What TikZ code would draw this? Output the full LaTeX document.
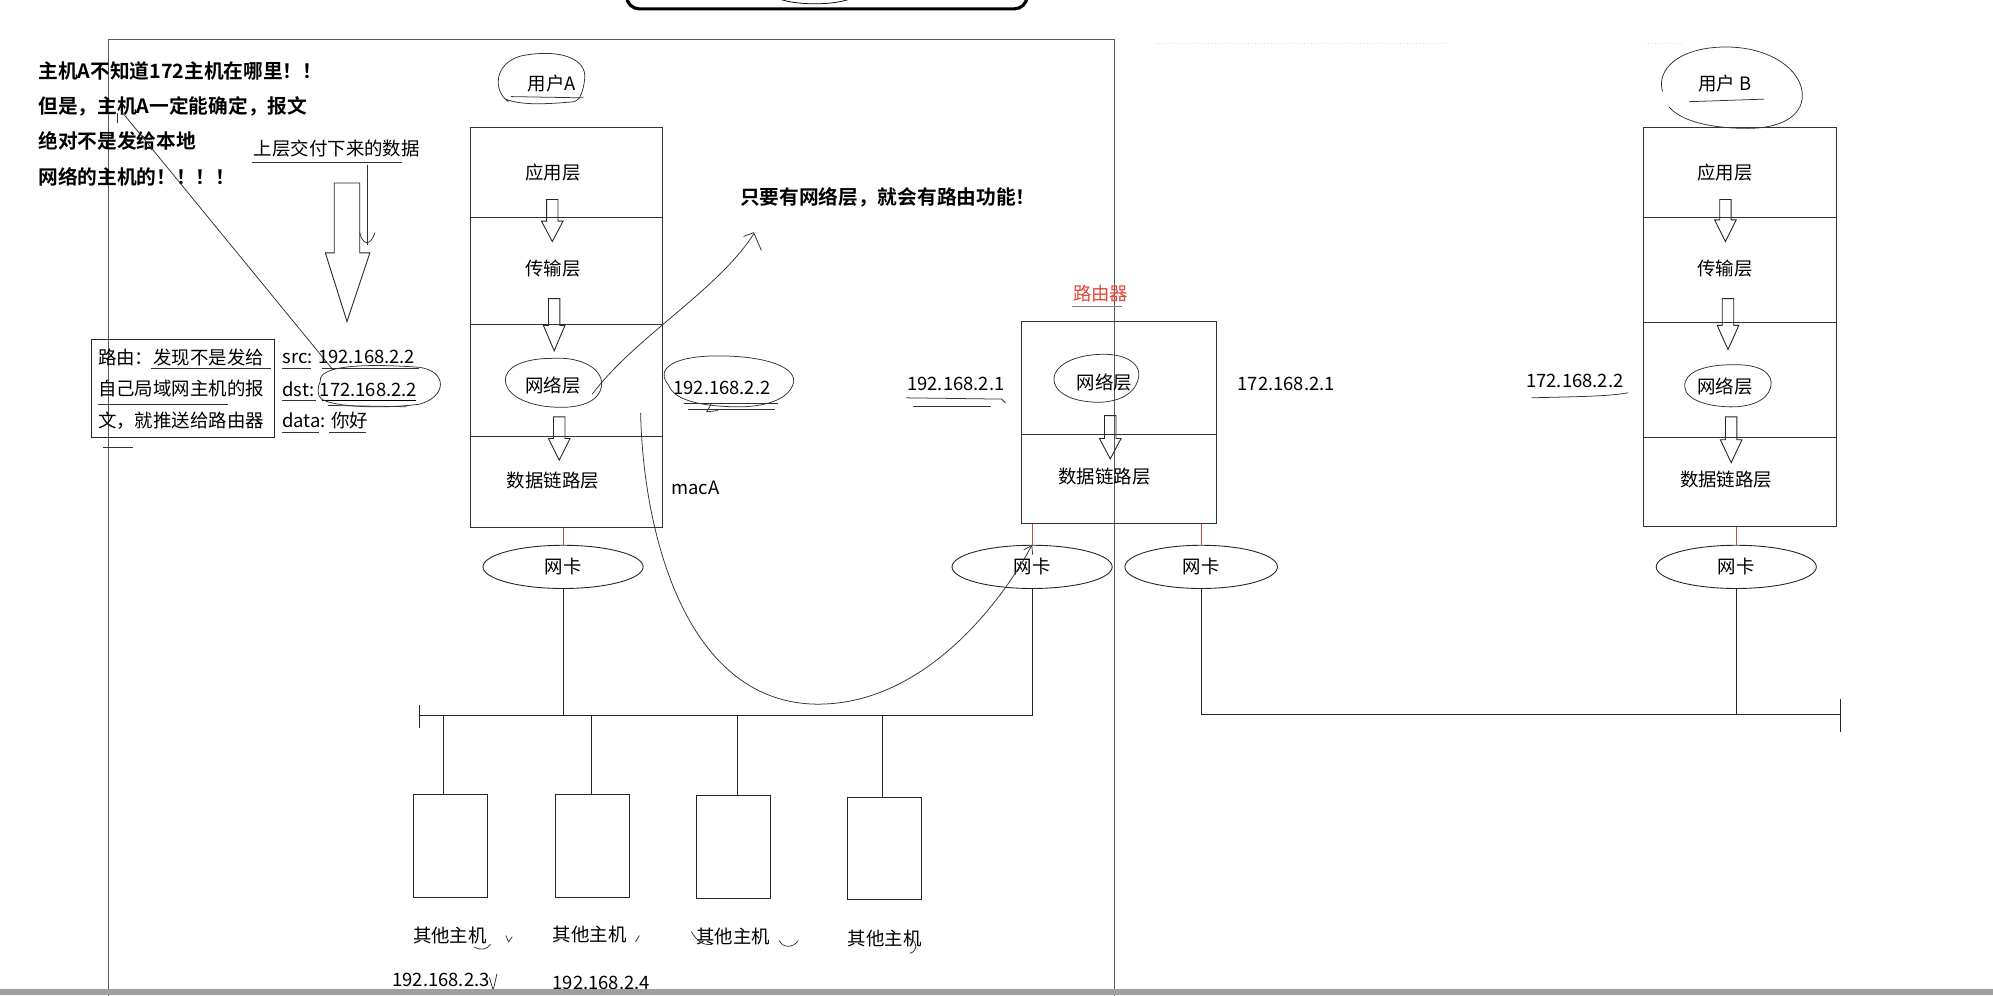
\documentclass[tikz,border=0pt]{standalone}
\usepackage{fontspec}
\setmainfont{Noto Sans CJK SC}[BoldFont={Noto Sans CJK SC Bold}]
\usetikzlibrary{arrows.meta,shapes.geometric}
\definecolor{routerred}{HTML}{E5463C}
\definecolor{linkred}{HTML}{C0504D}
\newcommand{\harrow}[4]{%
  \draw[thinline] (#1-4.5,#2) -- (#1+4.5,#2) -- (#1+4.5,#3) -- (#1+8.5,#3) -- (#1,#4) -- (#1-8.5,#3) -- (#1-4.5,#3) -- cycle;}
\begin{document}
\begin{tikzpicture}[x=1pt,y=-1pt,
  thinline/.style={line width=0.7pt, draw=black!85},
  frameline/.style={line width=0.8pt, draw=black!65},
  hand/.style={line width=0.6pt, draw=black!80},
  lbl/.style={font=\fontsize{14.5}{16}\selectfont, inner sep=0pt},
  boldtxt/.style={font=\fontsize{15.5}{18}\selectfont\bfseries, inner sep=0pt, anchor=west},
  layerbox/.style={draw=black!80, line width=0.7pt, inner sep=0pt},
  nic/.style={ellipse, draw=black!85, line width=0.7pt, minimum height=34pt, inner sep=0pt, font=\fontsize{14.5}{16}\selectfont},
  hostbox/.style={draw=black!85, line width=0.7pt, minimum width=58pt, minimum height=81pt, inner sep=0pt},
  redlink/.style={draw=linkred, line width=0.5pt}
]
\useasboundingbox (0,0) rectangle (1568,783);
\fill[white] (0,0) rectangle (1568,783);
\begin{scope}
\clip (0,0) rectangle (1568,783);
% top rounded box fragment
\draw[line width=2.5pt, rounded corners=10pt] (493,-30) rectangle (808,7);
\draw[line width=0.6pt] (641,-6) ellipse [x radius=34, y radius=9];
% frame
\draw[frameline] (85,790) -- (85,31) -- (877,31) -- (877,790);
% faint dotted line
\draw[cyan!25, dotted, line width=0.6pt] (909,34) -- (1139,34);
\draw[cyan!25, dotted, line width=0.6pt] (1294,34) -- (1325,34);

% left bold text
\node[boldtxt] (t1) at (30,56) {主机A不知道172主机在哪里！！};
\node[boldtxt] (t2) at (30,84) {但是，主机A一定能确定，报文};
\node[boldtxt] (t3) at (30,111) {绝对不是发给本地};
\node[boldtxt] (t4) at (30,139) {网络的主机的！！！！};
\coordinate (diagS) at (95,87);
\coordinate (diagE) at (262,291);
\draw[hand] (diagS) -- (diagE);
\draw[hand] (92,89) -- (92,97);

% upper data
\node[lbl] (upper) at (265,117) {上层交付下来的数据};
\draw[hand] (198,128) -- (316,128);
\coordinate (thinT) at (289,130);
\coordinate (thinB) at (289,193);
\draw[hand] (thinT) -- (thinB);
\draw[hand] (283,183) .. controls (285,192) and (291,195) .. (295,183);
\draw[thinline] (263,144) -- (283,144) -- (283,199) -- (291,199) -- (273,253) -- (256,199) -- (263,199) -- cycle;

% routing box
\node[draw=black!85, line width=0.7pt, minimum width=144pt, minimum height=77pt, inner sep=0pt] (routebox) at (144,305.5) {};
\node[lbl, anchor=west] (r1) at (77,281) {路由：发现不是发给};
\node[lbl, anchor=west] (r2) at (77,306) {自己局域网主机的报};
\node[lbl, anchor=west] (r3) at (77,331) {文，就推送给路由器};
\draw[hand] (119,290) -- (213,290);
\draw[hand] (77,318) -- (179,318);
\draw[hand] (81,352) -- (105,352);
\node[lbl, anchor=west] (src) at (222,281) {src: 192.168.2.2};
\node[lbl, anchor=west] (dst) at (222,306) {dst: 172.168.2.2};
\node[lbl, anchor=west] (data) at (222,331) {data: 你好};
\draw[hand] (222,290) -- (245,290);
\draw[hand] (253,290) -- (330,290);
\draw[hand] (222,315) -- (249,315);
\draw[line width=1.1pt] (253,315) -- (327,315);
\draw[hand] (258,319) -- (320,320);
\draw[hand] (222,340) -- (251,340);
\draw[hand] (259,340) -- (288,340);
\draw[hand] (252,300) .. controls (250,287) and (290,286) .. (330,289) .. controls (352,292) and (352,312) .. (330,318) .. controls (300,322) and (262,320) .. (253,314) .. controls (249,311) and (250,304) .. (252,300);

% Host A stack
\node[layerbox, minimum width=151pt, minimum height=71pt] (aApp) at (445.5,135.5) {};
\node[layerbox, minimum width=151pt, minimum height=84pt] (aTra) at (445.5,213) {};
\node[layerbox, minimum width=151pt, minimum height=88pt] (aNet) at (445.5,299) {};
\node[layerbox, minimum width=151pt, minimum height=72pt] (aLnk) at (445.5,379) {};
\node[lbl] (aAppL) at (435,136) {应用层};
\node[lbl] (aTraL) at (435,211) {传输层};
\node[lbl] (aNetL) at (435,303) {网络层};
\node[lbl] (aLnkL) at (435,378) {数据链路层};
\harrow{434.5}{157}{174}{190}
\harrow{436}{235}{256}{276}
\harrow{440}{328}{345}{362}
% user A
\node[lbl] (userA) at (434,66) {用户A};
\draw[hand] (402,76) -- (459,77);
\draw[hand] (400,80) .. controls (388,72) and (388,50) .. (410,44) .. controls (440,38) and (462,46) .. (460,62) .. controls (459,72) and (456,79) .. (452,80) .. controls (430,82) and (410,83) .. (398,78);
% network ellipse A
\draw[hand] (433,282) .. controls (460,280) and (476,292) .. (473,305) .. controls (470,318) and (452,322) .. (432,320) .. controls (410,318) and (395,308) .. (398,296) .. controls (401,286) and (418,282) .. (433,282);
% IP right of A
\node[lbl] (ipA) at (568,305) {192.168.2.2};
\draw[hand] (526,303) .. controls (515,290) and (530,280) .. (565,280) .. controls (605,280) and (628,290) .. (624,302) .. controls (620,315) and (600,321) .. (575,320) .. controls (548,319) and (530,314) .. (526,303);
\draw[hand] (538,317) -- (612,317);
\draw[hand] (541,322) -- (610,322);
\draw[hand] (560,317) -- (556,324) -- (565,323);
\node[lbl, anchor=west] (macA) at (528,384) {macA};

% curved note arrow
\node[boldtxt] (note) at (582,155) {只要有网络层，就会有路由功能！};
\coordinate (noteS) at (466,310);
\coordinate (noteE) at (593,184);
\draw[hand] (noteS) .. controls (500,265) and (565,228) .. (noteE);
\draw[hand] (585,186) -- (593,183) -- (599,197);

% Router
\node[text=routerred, lbl] (rtr) at (866,231) {路由器};
\draw[line width=0.6pt, draw=black!50] (843,241) -- (883,241);
\node[layerbox, minimum width=153pt, minimum height=89pt] (rNet) at (880.5,297.5) {};
\node[layerbox, minimum width=153pt, minimum height=70pt] (rLnk) at (880.5,377) {};
\node[lbl] (rNetL) at (869,301) {网络层};
\node[lbl] (rLnkL) at (869,375) {数据链路层};
\draw[hand] (862,279) .. controls (885,277) and (900,286) .. (895,300) .. controls (890,314) and (872,318) .. (856,316) .. controls (836,314) and (826,304) .. (830,294) .. controls (834,285) and (848,280) .. (862,279);
\harrow{873.5}{327}{345}{361}
\node[lbl] (ipR1) at (752,302) {192.168.2.1};
\draw[hand] (713,313) -- (788,314) -- (791,317);
\draw[hand] (718,320) -- (780,320);
\node[lbl] (ipR2) at (1012,302) {172.168.2.1};

% Host B stack
\node[layerbox, minimum width=152pt, minimum height=71pt] (bApp) at (1369,135.5) {};
\node[layerbox, minimum width=152pt, minimum height=83pt] (bTra) at (1369,212.5) {};
\node[layerbox, minimum width=152pt, minimum height=90pt] (bNet) at (1369,299) {};
\node[layerbox, minimum width=152pt, minimum height=70pt] (bLnk) at (1369,379) {};
\node[lbl] (bAppL) at (1357,136) {应用层};
\node[lbl] (bTraL) at (1357,211) {传输层};
\node[lbl] (bNetL) at (1357,304) {网络层};
\node[lbl] (bLnkL) at (1358,377) {数据链路层};
\harrow{1357.5}{157}{173}{190}
\harrow{1359.5}{235}{256}{275}
\harrow{1362}{328}{346}{364}
\draw[hand] (1362,287) .. controls (1385,286) and (1396,294) .. (1393,305) .. controls (1390,316) and (1375,321) .. (1358,320) .. controls (1338,319) and (1322,312) .. (1326,300) .. controls (1329,291) and (1345,287) .. (1362,287);
\node[lbl] (userB) at (1357,66) {用户 B};
\draw[hand] (1329,80) -- (1388,78);
\draw[hand] (1308,72) .. controls (1303,55) and (1320,38) .. (1355,37) .. controls (1392,36) and (1418,55) .. (1418,75) .. controls (1418,92) and (1400,101) .. (1375,101) .. controls (1345,101) and (1322,95) .. (1313,84);
\node[lbl] (ipB) at (1239,300) {172.168.2.2};
\draw[hand] (1205,313) .. controls (1240,312) and (1265,312) .. (1281,309);

% NICs
\node[nic, minimum width=126pt] (nicA) at (443,446) {网卡};
\node[nic, minimum width=126pt] (nicR1) at (812,446) {网卡};
\node[nic, minimum width=120pt] (nicR2) at (945,446) {网卡};
\node[nic, minimum width=126pt] (nicB) at (1366,446) {网卡};
\draw[redlink] (nicA.north |- aLnk.south) -- (nicA.north);
\draw[redlink] (nicR1.north |- rLnk.south) -- (nicR1.north);
\draw[redlink] (nicR2.north |- rLnk.south) -- (nicR2.north);
\draw[redlink] (nicB.north |- bLnk.south) -- (nicB.north);

% buses
\coordinate (busL) at (330,563);
\coordinate (busR) at (812,563);
\coordinate (bus2L) at (945,562);
\coordinate (bus2R) at (1448,562);
\draw[thinline] (busL) -- (busR);
\draw[thinline] (330,555) -- (330,573);
\draw[thinline] (bus2L) -- (bus2R);
\draw[thinline] (1448,550) -- (1448,576);
\draw[thinline] (nicA.south) -- (nicA.south |- busL);
\draw[thinline] (nicR1.south) -- (busR);
\draw[thinline] (nicR2.south) -- (bus2L);
\draw[thinline] (nicB.south) -- (nicB.south |- bus2L);

% other hosts
\node[hostbox] (h1) at (354.5,665.5) {};
\node[hostbox] (h2) at (466,665.5) {};
\node[hostbox] (h3) at (577,666) {};
\node[hostbox] (h4) at (696,667.5) {};
\coordinate (tap1) at (349,563);
\coordinate (tap2) at (465,563);
\coordinate (tap3) at (580,563);
\coordinate (tap4) at (694,563);
\draw[thinline] (tap1) -- (tap1 |- h1.north);
\draw[thinline] (tap2) -- (tap2 |- h2.north);
\draw[thinline] (tap3) -- (tap3 |- h3.north);
\draw[thinline] (tap4) -- (tap4 |- h4.north);
\node[lbl] (h1L) at (354,736) {其他主机};
\node[lbl] (h2L) at (464,735) {其他主机};
\node[lbl] (h3L) at (577,737) {其他主机};
\node[lbl] (h4L) at (696,738) {其他主机};
\draw[hand] (398,736) -- (400,741) -- (403,737);
\draw[hand] (373,745) .. controls (378,748) and (383,747) .. (386,743);
\draw[hand] (500,741) -- (503,736);
\draw[hand] (544,733) .. controls (548,740) and (553,744) .. (560,743);
\draw[hand] (613,740) .. controls (616,746) and (624,746) .. (628,740);
\draw[hand] (717,739) .. controls (722,742) and (722,748) .. (716,750);
\node[lbl] (ip3) at (347,771) {192.168.2.3};
\node[lbl] (ip4) at (473,773) {192.168.2.4};
\draw[hand] (308,779) -- (386,779);
\draw[hand] (385,769) -- (388,779) -- (391,766);

% big curve from A to router NIC
\coordinate (curveS) at (504,325);
\draw[hand, -{Straight Barb[length=6pt,width=8pt]}] (curveS) .. controls (506,420) and (540,555) .. (645,554) .. controls (730,553) and (790,470) .. (nicR1.north);

% bottom grey bar
\fill[gray!75] (0,778) rectangle (1568,783);
\end{scope}
\end{tikzpicture}
\end{document}
